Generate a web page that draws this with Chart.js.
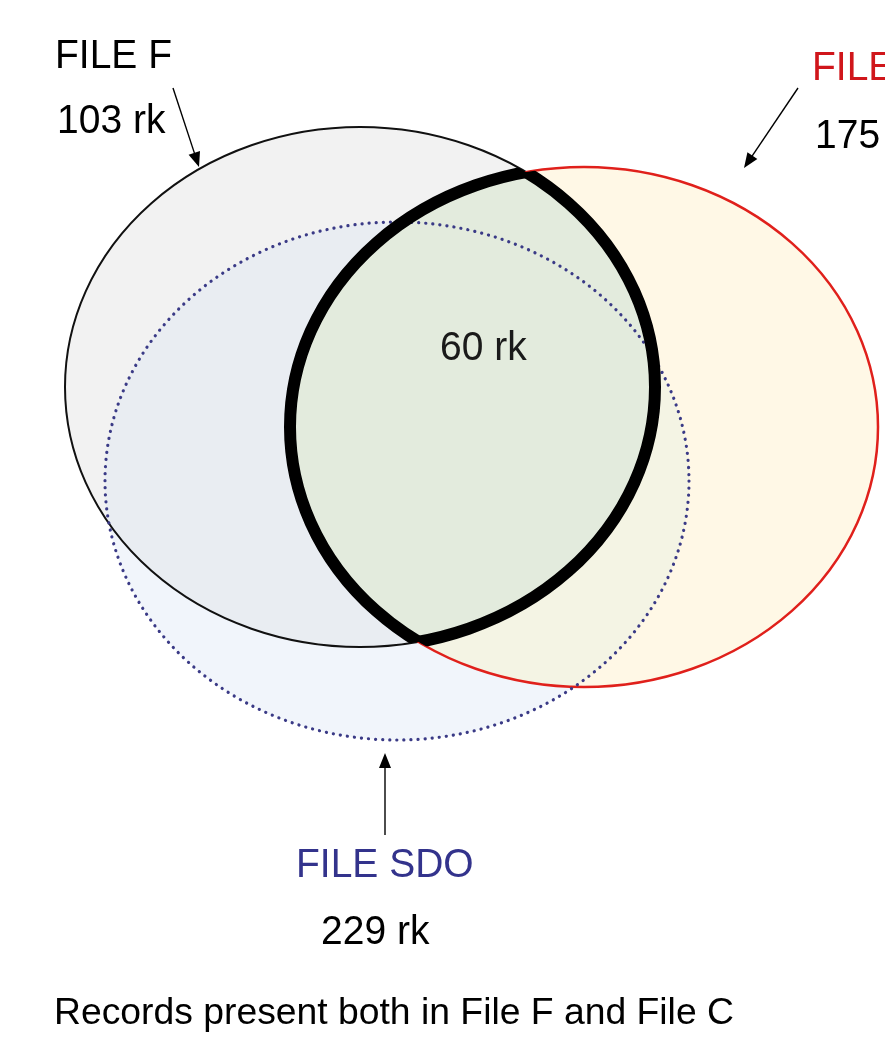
<!DOCTYPE html>
<html>
<head>
<meta charset="utf-8">
<script src="https://cdn.jsdelivr.net/npm/chart.js@4.4.1/dist/chart.umd.min.js"></script>
<style>
  html, body { margin: 0; padding: 0; background: #fff; }
  #wrap { width: 885px; height: 1042px; position: relative; }
</style>
</head>
<body>
<div id="wrap"><canvas id="venn"></canvas></div>
<script>
// sets of records and their counts
const setNames = ['FILE F', 'FILE C', 'FILE SDO'];
const setCounts = ['103 rk', '175 rk', '229 rk'];
const overlapCount = '60 rk';
const caption = 'Records present both in File F and File C';

// layout of the diagram in chart units (x 0..885, y 0..1042 top-down)
const ellipses = [
  { cx: 360, cy: 387, rx: 295, ry: 260, fill: '#f2f2f2', stroke: '#111', width: 2, dash: [] },
  { cx: 584, cy: 427, rx: 294, ry: 260, fill: '#fff8e6', stroke: '#e0201b', width: 2.5, dash: [] },
  { cx: 397, cy: 481, rx: 292, ry: 259, fill: '#f1f5fb', stroke: '#3a3a86', width: 3.2, dash: [0.1, 7] }
];
// overlap colours: [clip set, filled set, colour]
const overlaps = [
  [0, 2, '#e9edf2'],
  [1, 2, '#f4f4e4'],
  [0, 1, '#e3ebdd']
];
const labels = [
  { text: setNames[0], x: 55, y: 68, color: '#000' },
  { text: setCounts[0], x: 57, y: 133, color: '#000' },
  { text: setNames[1], x: 812, y: 80, color: '#d0161b' },
  { text: setCounts[1], x: 815, y: 148, color: '#000' },
  { text: overlapCount, x: 440, y: 360, color: '#1a1a1a' },
  { text: setNames[2], x: 296, y: 877, color: '#33338c' },
  { text: setCounts[2], x: 321, y: 944, color: '#000' },
  { text: caption, x: 54, y: 1024, color: '#000', size: 37.3 }
];
const arrows = [
  { x1: 173, y1: 88, x2: 199, y2: 167 },
  { x1: 798, y1: 88, x2: 744, y2: 168 },
  { x1: 385, y1: 835, x2: 385, y2: 753 }
];

function ellipsePath(ctx, xs, ys, e) {
  const px = xs.getPixelForValue(e.cx), py = ys.getPixelForValue(e.cy);
  const rx = Math.abs(xs.getPixelForValue(e.cx + e.rx) - px);
  const ry = Math.abs(ys.getPixelForValue(e.cy + e.ry) - py);
  ctx.beginPath();
  ctx.ellipse(px, py, rx, ry, 0, 0, Math.PI * 2);
}

const vennPlugin = {
  id: 'venn',
  afterDatasetsDraw(chart) {
    const ctx = chart.ctx;
    const xs = chart.scales.x, ys = chart.scales.y;

    // base fills
    [2, 0, 1].forEach(i => {
      ellipsePath(ctx, xs, ys, ellipses[i]);
      ctx.fillStyle = ellipses[i].fill;
      ctx.fill();
    });
    // overlap fills
    overlaps.forEach(([a, b, col]) => {
      ctx.save();
      ellipsePath(ctx, xs, ys, ellipses[a]);
      ctx.clip();
      ellipsePath(ctx, xs, ys, ellipses[b]);
      ctx.fillStyle = col;
      ctx.fill();
      ctx.restore();
    });

    // outlines
    [0, 1, 2].forEach(i => {
      const e = ellipses[i];
      ctx.save();
      ellipsePath(ctx, xs, ys, e);
      ctx.strokeStyle = e.stroke;
      ctx.lineWidth = e.width;
      ctx.setLineDash(e.dash);
      ctx.lineCap = e.dash.length ? 'round' : 'butt';
      ctx.stroke();
      ctx.restore();
    });

    // thick outline around the F/C overlap
    [[0, 1], [1, 0]].forEach(([a, b]) => {
      ctx.save();
      ellipsePath(ctx, xs, ys, ellipses[b]);
      ctx.clip();
      ellipsePath(ctx, xs, ys, ellipses[a]);
      ctx.strokeStyle = '#000';
      ctx.lineWidth = 12;
      ctx.lineJoin = 'round';
      ctx.stroke();
      ctx.restore();
    });

    // arrows
    arrows.forEach(a => {
      const x1 = xs.getPixelForValue(a.x1), y1 = ys.getPixelForValue(a.y1);
      const x2 = xs.getPixelForValue(a.x2), y2 = ys.getPixelForValue(a.y2);
      const ang = Math.atan2(y2 - y1, x2 - x1);
      ctx.save();
      ctx.strokeStyle = '#000';
      ctx.fillStyle = '#000';
      ctx.lineWidth = 1.4;
      ctx.beginPath();
      ctx.moveTo(x1, y1);
      ctx.lineTo(x2 - 12 * Math.cos(ang), y2 - 12 * Math.sin(ang));
      ctx.stroke();
      ctx.translate(x2, y2);
      ctx.rotate(ang);
      ctx.beginPath();
      ctx.moveTo(0, 0);
      ctx.lineTo(-15, -6);
      ctx.lineTo(-15, 6);
      ctx.closePath();
      ctx.fill();
      ctx.restore();
    });

    // text, slightly stretched vertically like the original
    labels.forEach(l => {
      ctx.save();
      ctx.font = (l.size || 39) + 'px "Liberation Sans", Arial, sans-serif';
      ctx.fillStyle = l.color;
      ctx.textBaseline = 'alphabetic';
      ctx.translate(xs.getPixelForValue(l.x), ys.getPixelForValue(l.y));
      ctx.scale(1, l.size ? 1 : 1.06);
      ctx.fillText(l.text, 0, 0);
      ctx.restore();
    });
  }
};

new Chart(document.getElementById('venn'), {
  type: 'scatter',
  data: {
    datasets: [{
      label: 'sets',
      data: ellipses.map(e => ({ x: e.cx, y: e.cy })),
      pointRadius: 0,
      showLine: false
    }]
  },
  options: {
    responsive: true,
    maintainAspectRatio: false,
    animation: false,
    layout: { padding: 0 },
    plugins: { legend: { display: false }, tooltip: { enabled: false } },
    scales: {
      x: { type: 'linear', min: 0, max: 885, display: false },
      y: { type: 'linear', min: 0, max: 1042, reverse: true, display: false }
    }
  },
  plugins: [vennPlugin]
});
</script>
</body>
</html>
